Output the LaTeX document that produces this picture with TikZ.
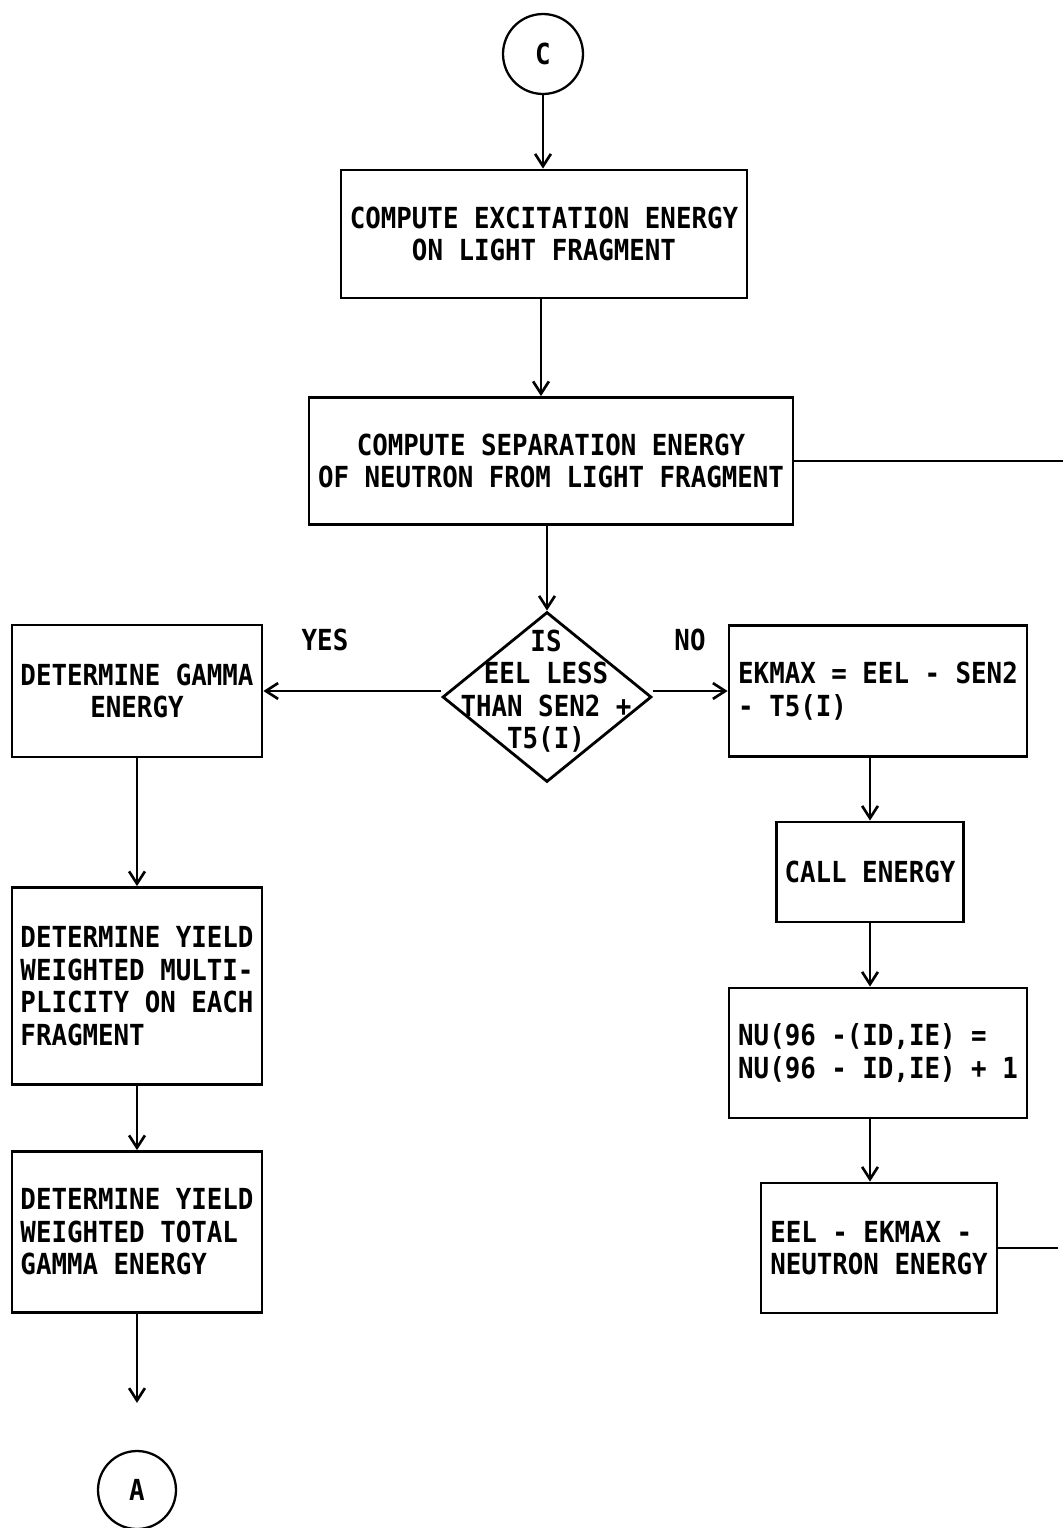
\documentclass[tikz,border=0pt]{standalone}
\usepackage{fontspec}
\newfontfamily\chartfont[FakeStretch=0.89]{DejaVu Sans Mono}
\usetikzlibrary{shapes.geometric,arrows.meta}
\tikzset{
  box/.style={draw,line width=1.6pt,inner xsep=0.16cm,inner ysep=0pt},
  flow/.style={line width=1.3pt,-{Straight Barb[length=7pt,width=9pt,line width=1.5pt]}},
  link/.style={line width=1.6pt},
}
\begin{document}
\begin{tikzpicture}[x=0.02cm,y=-0.02cm,font=\chartfont\bfseries\fontsize{16.5}{18.5}\selectfont]
\useasboundingbox (0,0) rectangle (1063,1528);
\node[circle,draw,line width=1.3pt,minimum size=1.6cm,inner sep=0pt] (c) at (543,54) {C};
\node[box,minimum width=8.12cm,minimum height=2.56cm,align=center] (excite) at (544,234) {COMPUTE EXCITATION ENERGY\\ON LIGHT FRAGMENT};
\node[box,minimum width=9.68cm,minimum height=2.54cm,align=center] (sep) at (551,461) {COMPUTE SEPARATION ENERGY\\OF NEUTRON FROM LIGHT FRAGMENT};
\node[diamond,draw,line width=1.6pt,minimum width=4.18cm,minimum height=3.4cm,inner sep=0pt] (test) at (547,697) {};
\node[align=center,inner sep=0pt] (testtext) at (546,691) {IS\\EEL LESS\\THAN SEN2 +\\T5(I)};
\node (yes) at (325,640) {YES};
\node (no) at (690,640) {NO};
\node[box,minimum width=5cm,minimum height=2.64cm,align=center] (gamma) at (137,691) {DETERMINE GAMMA\\ENERGY};
\node[box,minimum width=5cm,minimum height=3.94cm,align=left] (yield1) at (137,986) {DETERMINE YIELD\\WEIGHTED MULTI-\\PLICITY ON EACH\\FRAGMENT};
\node[box,minimum width=5cm,minimum height=3.22cm,align=left] (yield2) at (137,1232) {DETERMINE YIELD\\WEIGHTED TOTAL\\GAMMA ENERGY};
\node[circle,draw,line width=1.3pt,minimum size=1.56cm,inner sep=0pt] (a) at (137,1490) {A};
\node[box,minimum width=5.96cm,minimum height=2.62cm,align=left] (ekmax) at (878,691) {EKMAX = EEL - SEN2\\- T5(I)};
\node[box,minimum width=3.72cm,minimum height=2cm] (call) at (870,872) {CALL ENERGY};
\node[box,minimum width=5.96cm,minimum height=2.6cm,align=left] (nu) at (878,1053) {NU(96 -(ID,IE) =\\NU(96 - ID,IE) + 1};
\node[box,minimum width=4.72cm,minimum height=2.6cm,align=left] (resid) at (879,1248) {EEL - EKMAX -\\NEUTRON ENERGY};
\coordinate (rim) at (1063,0);
\coordinate (rimend) at (1058,0);
\draw[flow] (c) -- (c.south |- excite.north);
\draw[flow] (excite.south -| 541,0) -- (sep.north -| 541,0);
\draw[flow] (sep.south -| test.north) -- (test.north);
\draw[flow] (test.west |- testtext) -- (gamma.east |- testtext);
\draw[flow] (test.east |- testtext) -- (ekmax.west |- testtext);
\draw[flow] (gamma) -- (yield1);
\draw[flow] (yield1) -- (yield2);
\draw[flow,shorten >=0.94cm] (yield2) -- (a);
\draw[flow] (ekmax.south -| call) -- (call);
\draw[flow] (call.south -| call) -- (nu.north -| call);
\draw[flow] (nu.south -| call) -- (resid.north -| call);
\draw[link] (sep.east) -- (sep.east -| rim);
\draw[link] (resid.east) -- (resid.east -| rimend);
\end{tikzpicture}
\end{document}
